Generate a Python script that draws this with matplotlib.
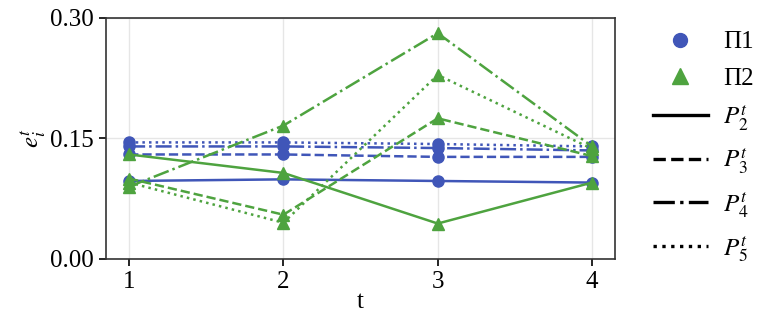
import numpy as np
import matplotlib.pyplot as plt
from matplotlib.lines import Line2D

t = [1, 2, 3, 4]

# Π1 (blue, circles)
pi1_p2 = [0.097, 0.099, 0.097, 0.095]
pi1_p3 = [0.130, 0.130, 0.127, 0.127]
pi1_p4 = [0.140, 0.140, 0.138, 0.135]
pi1_p5 = [0.145, 0.145, 0.143, 0.140]

# Π2 (green, triangles)
pi2_p2 = [0.130, 0.107, 0.044, 0.095]
pi2_p3 = [0.100, 0.055, 0.175, 0.128]
pi2_p4 = [0.090, 0.166, 0.281, 0.140]
pi2_p5 = [0.095, 0.045, 0.229, 0.137]

styles = ['-', '--', '-.', ':']
p_labels = [r'$P_2^t$', r'$P_3^t$', r'$P_4^t$', r'$P_5^t$']
blue = '#4056b8'
green = '#4ea33f'

plt.rcParams['font.family'] = ['Liberation Serif', 'DejaVu Serif']
plt.rcParams['mathtext.fontset'] = 'stix'

fig = plt.figure(figsize=(7.68, 3.2), dpi=100)
ax = fig.add_axes([0.138, 0.191, 0.663, 0.753])

for ys, ls in zip([pi1_p2, pi1_p3, pi1_p4, pi1_p5], styles):
    ax.plot(t, ys, ls, color=blue, marker='o', markersize=8, lw=1.8)
for ys, ls in zip([pi2_p2, pi2_p3, pi2_p4, pi2_p5], styles):
    ax.plot(t, ys, ls, color=green, marker='^', markersize=9, lw=1.8)

ax.set_ylim(0, 0.30)
ax.set_yticks([0.0, 0.15, 0.30])
ax.set_xticks(t)
ax.grid(True, color='#e6e6e6', lw=1)
ax.set_axisbelow(True)
ax.tick_params(labelsize=18, length=5, width=1.2, pad=4)
for s in ax.spines.values():
    s.set_linewidth(1.2)
    s.set_color('#333333')
ax.set_xlabel('t', fontsize=18, labelpad=-2)
ax.set_ylabel(r'$e_i^t$', fontsize=18, labelpad=1)

handles = [
    Line2D([], [], ls='none', marker='o', color=blue, markersize=10),
    Line2D([], [], ls='none', marker='^', color=green, markersize=11),
]
for ls in styles:
    handles.append(Line2D([], [], ls=ls, color='black', lw=2.4))
labels = ['Π1', 'Π2'] + p_labels
ax.legend(handles, labels, loc='upper left', bbox_to_anchor=(1.03, 1.04),
          frameon=False, fontsize=18, handlelength=2.2, labelspacing=0.55,
          handletextpad=0.6)

fig.savefig('out.png', dpi=100)
